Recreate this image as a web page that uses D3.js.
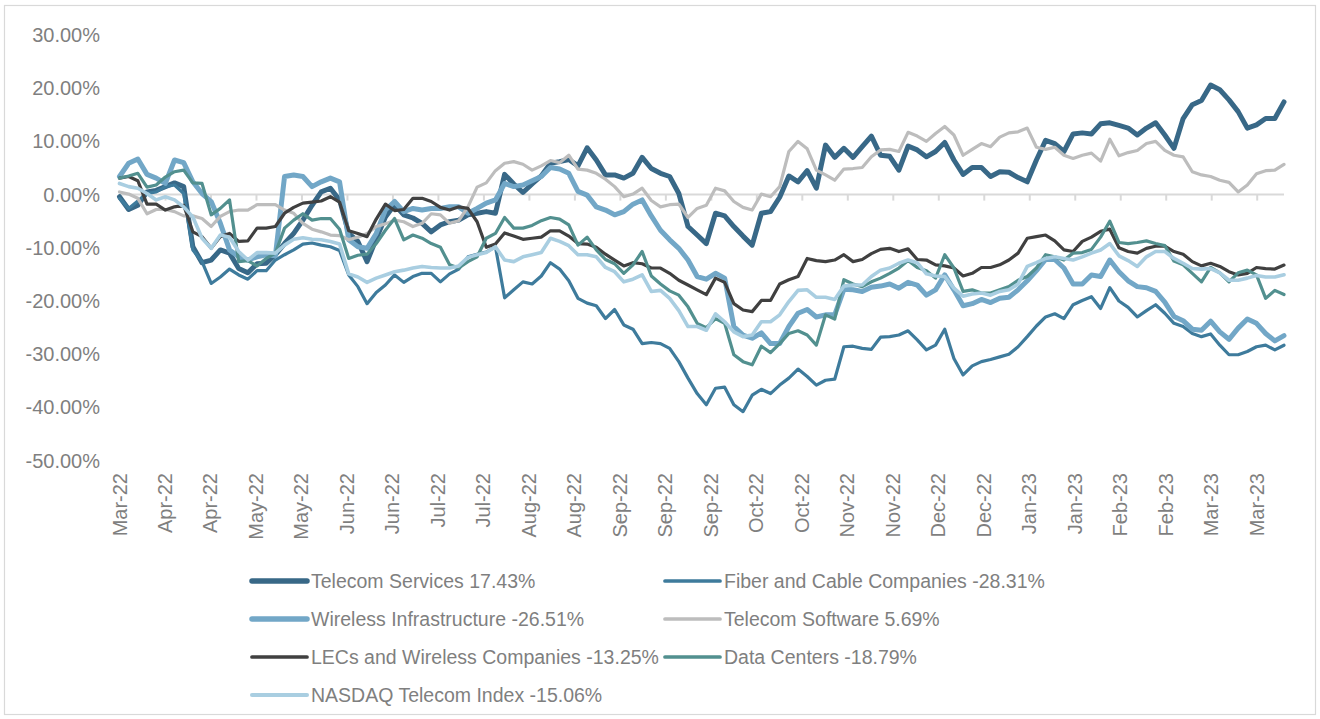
<!DOCTYPE html>
<html>
<head>
<meta charset="utf-8">
<script src="https://cdn.jsdelivr.net/npm/d3@7"></script>
<style>
  html, body { margin: 0; padding: 0; background: #ffffff; }
  svg { display: block; }
  text { font-family: "Liberation Sans", Arial, sans-serif; fill: #7f7f7f; }
</style>
</head>
<body>
<svg id="chart" width="1320" height="719"></svg>
<script>
// Axis labels: one every ten trading days, Mar-22 through Mar-23
const tickLabels = [
  "Mar-22", "Apr-22", "Apr-22", "May-22", "May-22", "Jun-22", "Jun-22", "Jul-22", "Jul-22",
  "Aug-22", "Aug-22", "Sep-22", "Sep-22", "Sep-22", "Oct-22", "Oct-22", "Nov-22", "Nov-22",
  "Dec-22", "Dec-22", "Jan-23", "Jan-23", "Feb-23", "Feb-23", "Mar-23", "Mar-23"
];
const yTicks = [30, 20, 10, 0, -10, -20, -30, -40, -50];

// Cumulative return (%), sampled every other trading day over the period
const telecomServices = [
  -0.4, -2.8, -2.0, 0.5, 0.8, 1.5, 2.2, 1.5, -9.8, -12.8,
  -12.3, -10.4, -11.0, -13.9, -14.7, -13.0, -12.9, -11.3, -9.2, -7.3,
  -4.8, -2.0, 0.5, 1.2, -1.0, -7.3, -8.8, -12.6, -8.3, -4.2,
  -1.9, -3.8, -4.4, -5.4, -7.0, -5.7, -5.1, -4.8, -3.8, -3.5,
  -3.2, -3.5, 3.8, 2.0, 0.4, 2.0, 3.5, 5.9, 6.2, 6.6,
  5.4, 8.8, 6.5, 3.7, 3.7, 3.1, 4.0, 7.0, 4.9, 4.0,
  3.4, 0.2, -6.0, -7.6, -9.2, -3.5, -4.0, -6.0, -7.8, -9.5,
  -3.5, -3.2, -0.5, 3.5, 2.4, 4.5, 1.2, 9.3, 7.0, 8.7,
  7.0, 9.0, 11.0, 7.4, 7.2, 4.6, 9.1, 8.4, 7.1, 8.1,
  9.8, 6.5, 3.8, 5.1, 5.1, 3.4, 4.3, 4.2, 3.2, 2.4,
  6.5, 10.2, 9.6, 8.1, 11.4, 11.6, 11.4, 13.3, 13.5, 13.0,
  12.5, 11.2, 12.5, 13.5, 11.2, 8.7, 14.3, 16.9, 17.7, 20.6,
  19.7, 17.8, 15.6, 12.5, 13.1, 14.3, 14.3, 17.43
];
const fiberCable = [
  -0.7, -2.6, -1.2, 0.2, 0.5, 1.5, 1.8, 0.2, -10.4, -12.6,
  -16.7, -15.5, -14.0, -15.1, -15.9, -14.3, -14.3, -12.3, -11.3, -10.4,
  -9.3, -9.1, -9.5, -9.8, -10.5, -15.1, -17.3, -20.5, -18.4, -17.0,
  -15.1, -16.5, -15.4, -14.8, -14.8, -16.4, -14.9, -14.0, -11.7, -11.2,
  -10.8, -9.8, -19.4, -17.9, -16.4, -16.8, -15.3, -12.8, -14.0, -16.2,
  -19.5, -20.4, -20.9, -23.3, -21.6, -24.5, -25.3, -28.0, -27.8, -28.0,
  -28.9, -31.4, -34.5, -37.4, -39.5, -36.4, -36.2, -39.5, -40.8, -37.7,
  -36.6, -37.4, -35.8, -34.5, -32.8, -34.2, -35.8, -34.9, -34.7, -28.6,
  -28.5, -28.9, -29.1, -26.8, -26.7, -26.4, -25.6, -27.3, -29.2, -28.3,
  -25.3, -30.8, -33.9, -32.2, -31.4, -31.0, -30.5, -30.0, -28.6, -26.7,
  -24.7, -23.0, -22.4, -23.3, -20.7, -19.9, -19.2, -21.4, -17.5, -20.0,
  -21.2, -23.0, -21.8, -20.7, -22.3, -24.2, -24.8, -26.1, -26.7, -26.2,
  -28.3, -30.1, -30.1, -29.5, -28.6, -28.3, -29.2, -28.31
];
const wirelessInfra = [
  3.4, 5.9, 6.7, 3.8, 3.1, 2.1, 6.5, 6.0, 2.4, 0.2,
  -1.3, -5.4, -10.4, -11.7, -12.3, -11.7, -11.3, -11.5, 3.4, 3.7,
  3.4, 1.5, 2.4, 3.1, 2.4, -8.5, -9.8, -10.1, -7.3, -2.9,
  -1.3, -3.2, -2.6, -2.9, -2.6, -2.6, -2.3, -2.3, -3.5, -2.6,
  -1.6, -1.0, 2.1, 1.5, 1.8, 2.6, 3.4, 5.1, 4.8, 4.0,
  0.6, -0.1, -2.3, -2.9, -3.8, -3.2, -1.8, -1.0, -4.0, -6.7,
  -8.5, -10.1, -12.3, -15.4, -15.9, -14.8, -15.7, -24.8, -26.4, -27.0,
  -26.0, -28.0, -28.0, -24.8, -22.3, -21.6, -23.0, -22.6, -22.6, -17.8,
  -17.9, -18.2, -17.4, -17.2, -16.8, -17.6, -16.5, -17.0, -18.9, -17.9,
  -15.1, -17.9, -20.9, -20.5, -19.7, -20.3, -19.5, -19.3, -17.9, -16.2,
  -14.3, -12.2, -12.2, -13.8, -16.8, -16.8, -15.1, -15.4, -12.3, -14.5,
  -16.2, -17.3, -17.5, -18.2, -20.2, -22.9, -23.7, -25.3, -25.5, -23.8,
  -25.8, -27.2, -25.1, -23.4, -24.2, -26.1, -27.5, -26.51
];
const telecomSoftware = [
  0.5, 0.1, -0.7, -3.6, -2.8, -2.8, -3.2, -4.0, -4.0, -4.5,
  -6.0, -4.1, -3.2, -2.9, -2.9, -1.9, -1.9, -1.9, -2.9, -3.5,
  -5.4, -6.5, -7.0, -7.6, -7.7, -8.5, -8.0, -7.3, -6.0, -5.5,
  -4.8, -5.1, -6.0, -5.4, -3.6, -3.8, -5.4, -4.9, -2.3, 1.4,
  2.2, 4.5, 5.9, 6.2, 5.7, 4.6, 5.4, 6.4, 6.0, 7.4,
  4.8, 4.6, 4.0, 2.9, 1.5, -0.4, 0.1, 1.2, -1.1, -2.3,
  -1.9, -1.8, -4.3, -2.6, -2.0, 1.2, 0.7, -1.3, -2.4, -2.9,
  0.1, -0.4, 1.5, 8.1, 10.0, 8.6, 4.6, 3.7, 2.7, 4.8,
  4.9, 5.1, 7.1, 8.4, 8.5, 8.1, 11.7, 11.0, 10.0, 11.5,
  12.8, 11.2, 7.4, 8.5, 9.6, 9.0, 10.8, 11.6, 11.8, 12.5,
  8.9, 8.5, 8.9, 7.4, 6.8, 7.4, 7.8, 6.3, 10.4, 7.3,
  7.9, 8.3, 9.6, 10.0, 8.3, 7.4, 7.1, 4.3, 3.7, 3.4,
  2.7, 2.3, 0.5, 1.8, 3.9, 4.5, 4.6, 5.69
];
const lecsWireless = [
  3.1, 3.4, 2.6, -1.8, -1.8, -2.9, -2.3, -2.0, -7.0, -7.9,
  -10.1, -7.9, -7.3, -8.8, -8.7, -6.3, -6.3, -6.0, -3.5, -2.4,
  -1.6, -1.4, -1.2, -0.4, -1.4, -6.8, -7.3, -7.9, -4.6, -1.8,
  -3.0, -2.8, -0.7, -0.7, -1.3, -2.4, -2.9, -2.3, -2.6, -5.1,
  -9.9, -9.3, -7.2, -7.8, -8.4, -8.2, -8.0, -6.8, -6.8, -7.8,
  -9.2, -9.3, -9.9, -11.2, -12.3, -13.4, -12.8, -13.0, -13.8, -13.8,
  -14.8, -16.1, -17.0, -17.9, -18.8, -15.7, -16.5, -20.5, -21.7, -22.0,
  -19.9, -19.9, -16.8, -16.0, -15.4, -12.0, -12.4, -12.6, -12.3, -11.3,
  -12.6, -12.2, -11.1, -10.3, -10.1, -10.7, -10.2, -12.2, -12.3, -13.2,
  -13.4, -13.8, -15.3, -14.8, -13.7, -13.7, -13.2, -12.3, -11.0, -8.2,
  -7.9, -7.6, -8.7, -10.4, -10.7, -8.8, -8.0, -6.9, -6.5, -10.0,
  -10.7, -11.0, -10.1, -9.7, -9.7, -10.7, -11.2, -12.6, -13.4, -12.9,
  -13.5, -14.5, -15.1, -14.8, -13.7, -13.9, -14.0, -13.25
];
const dataCenters = [
  3.1, 3.5, 4.0, 1.4, 1.8, 3.3, 4.3, 4.6, 2.2, 2.1,
  -3.8, -2.6, -1.0, -12.6, -12.4, -13.4, -12.0, -11.0, -6.3, -4.8,
  -3.6, -4.8, -4.5, -4.5, -6.5, -12.0, -11.4, -11.2, -9.2, -6.7,
  -4.5, -8.5, -7.6, -8.2, -9.2, -9.9, -13.2, -13.8, -12.6, -11.7,
  -8.2, -7.3, -4.3, -6.3, -6.3, -5.8, -4.9, -4.3, -4.6, -5.7,
  -9.5, -8.0, -10.4, -12.2, -13.0, -14.8, -13.2, -10.7, -15.3, -16.8,
  -18.1, -18.9, -21.1, -24.2, -25.0, -23.3, -24.2, -30.1, -31.4, -32.0,
  -28.5, -29.7, -28.0, -26.1, -25.6, -26.4, -28.3, -22.6, -23.4, -16.0,
  -16.8, -17.3, -16.4, -15.7, -14.8, -13.8, -12.4, -13.7, -14.3, -15.7,
  -11.3, -13.8, -18.2, -17.9, -18.5, -18.5, -17.9, -17.3, -16.1, -15.4,
  -13.8, -11.3, -11.7, -12.3, -11.0, -10.9, -10.3, -8.0, -5.0, -9.0,
  -9.2, -9.0, -8.7, -9.2, -9.6, -12.5, -13.2, -14.8, -16.4, -13.7,
  -14.7, -16.4, -14.7, -14.2, -15.1, -19.5, -18.0, -18.79
];
const nasdaqTelecom = [
  2.1, 1.5, 1.2, 0.2, -1.0, -0.4, -1.0, -2.3, -4.2, -8.2,
  -10.1, -7.6, -8.0, -10.7, -12.3, -10.9, -10.9, -11.0, -9.5, -8.4,
  -8.1, -8.4, -8.5, -8.8, -9.3, -14.9, -15.5, -16.5, -15.7, -15.1,
  -14.5, -14.2, -13.8, -13.5, -13.7, -13.8, -13.8, -13.4, -11.8, -11.3,
  -10.9, -9.8, -12.3, -12.6, -11.7, -11.3, -10.9, -8.2, -8.8, -9.6,
  -11.3, -11.3, -11.7, -13.7, -14.5, -16.4, -15.9, -15.1, -18.2, -18.0,
  -19.5, -21.8, -24.8, -24.8, -25.5, -22.4, -23.9, -25.8, -26.7, -26.4,
  -23.9, -23.9, -22.6, -20.1, -18.0, -17.9, -19.3, -19.3, -19.7, -17.2,
  -17.0, -17.0, -15.4, -14.2, -13.8, -12.9, -12.3, -12.8, -14.9, -15.3,
  -15.4, -17.6, -19.1, -18.7, -18.5, -18.9, -18.2, -17.9, -16.8, -13.5,
  -12.8, -12.0, -11.7, -12.0, -12.3, -11.7, -11.0, -10.4, -9.2, -11.5,
  -12.4, -13.5, -11.7, -10.7, -10.7, -12.0, -12.9, -13.9, -14.0, -13.9,
  -14.7, -16.1, -16.1, -15.7, -15.2, -15.5, -15.5, -15.06
];

const seriesNames = [
  "Telecom Services", "Fiber and Cable Companies", "Wireless Infrastructure",
  "Telecom Software", "LECs and Wireless Companies", "Data Centers", "NASDAQ Telecom Index"
];
const seriesValues = [
  telecomServices, fiberCable, wirelessInfra, telecomSoftware,
  lecsWireless, dataCenters, nasdaqTelecom
];

// Styling
const seriesColors = ["#386887", "#3e7b9c", "#72a7c7", "#bdbdbd", "#404040", "#52908f", "#a9cee1"];
const seriesWidths = [5, 3.2, 5, 3.2, 3.2, 3.2, 3.6];
const lastDay = 256;        // trading days covered
const daysPerLabel = 10;

const svg = d3.select("#chart");

// outer frame
svg.append("rect")
  .attr("x", 4.5).attr("y", 5.5)
  .attr("width", 1311).attr("height", 709)
  .attr("fill", "none").attr("stroke", "#d9d9d9").attr("stroke-width", 1.2);

const x = d3.scaleLinear().domain([0, lastDay]).range([119.5, 1284]);
const y = d3.scaleLinear().domain([-50, 30]).range([460.6, 35]);

// y axis labels (no axis line, no gridlines)
const yAxis = d3.axisLeft(y)
  .tickValues(yTicks)
  .tickSize(0)
  .tickPadding(0)
  .tickFormat(v => v.toFixed(2) + "%");
const gy = svg.append("g").attr("transform", "translate(100,0)").call(yAxis);
gy.select(".domain").remove();
gy.selectAll("text")
  .attr("fill", "#7f7f7f")
  .style("font-size", "20px")
  .style("font-family", "'Liberation Sans', Arial, sans-serif");

// horizontal category axis sitting on the zero line
const labelDays = tickLabels.map((_, k) => k * daysPerLabel);
const xAxis = d3.axisBottom(x)
  .tickValues(labelDays)
  .tickSize(6)
  .tickFormat("");
const gx = svg.append("g").attr("transform", `translate(0,${y(0)})`).call(xAxis);
gx.select(".domain").attr("stroke", "#d9d9d9").attr("stroke-width", 2)
  .attr("d", `M${x(0)},0H${x(lastDay)}`);
gx.selectAll(".tick line").attr("stroke", "#d9d9d9").attr("stroke-width", 2);

// rotated date labels along the bottom
svg.append("g").selectAll("text")
  .data(tickLabels)
  .join("text")
  .attr("transform", (d, k) => `translate(${x(labelDays[k])},473) rotate(-90)`)
  .attr("text-anchor", "end")
  .attr("dy", "0.35em")
  .style("font-size", "20px")
  .text(d => d);

// series lines
const line = d3.line()
  .x((d, i, arr) => x(i * lastDay / (arr.length - 1)))
  .y(d => y(d));

const gLines = svg.append("g");
seriesValues.forEach((vals, s) => {
  gLines.append("path")
    .datum(vals)
    .attr("fill", "none")
    .attr("stroke", seriesColors[s])
    .attr("stroke-width", seriesWidths[s])
    .attr("stroke-linejoin", "round")
    .attr("stroke-linecap", "round")
    .attr("d", line);
});

// legend, two columns
const legendCols = [252, 665];
const legendRows = [581, 619, 657, 695];
const gLeg = svg.append("g");
seriesNames.forEach((name, s) => {
  const cx = legendCols[s % 2];
  const cy = legendRows[Math.floor(s / 2)];
  const last = seriesValues[s][seriesValues[s].length - 1];
  gLeg.append("line")
    .attr("x1", cx).attr("x2", cx + 55)
    .attr("y1", cy).attr("y2", cy)
    .attr("stroke", seriesColors[s])
    .attr("stroke-width", seriesWidths[s] + 0.5)
    .attr("stroke-linecap", "round");
  gLeg.append("text")
    .attr("x", cx + 59).attr("y", cy)
    .attr("dy", "0.35em")
    .style("font-size", "19.5px")
    .text(`${name} ${last.toFixed(2)}%`);
});
</script>
</body>
</html>
